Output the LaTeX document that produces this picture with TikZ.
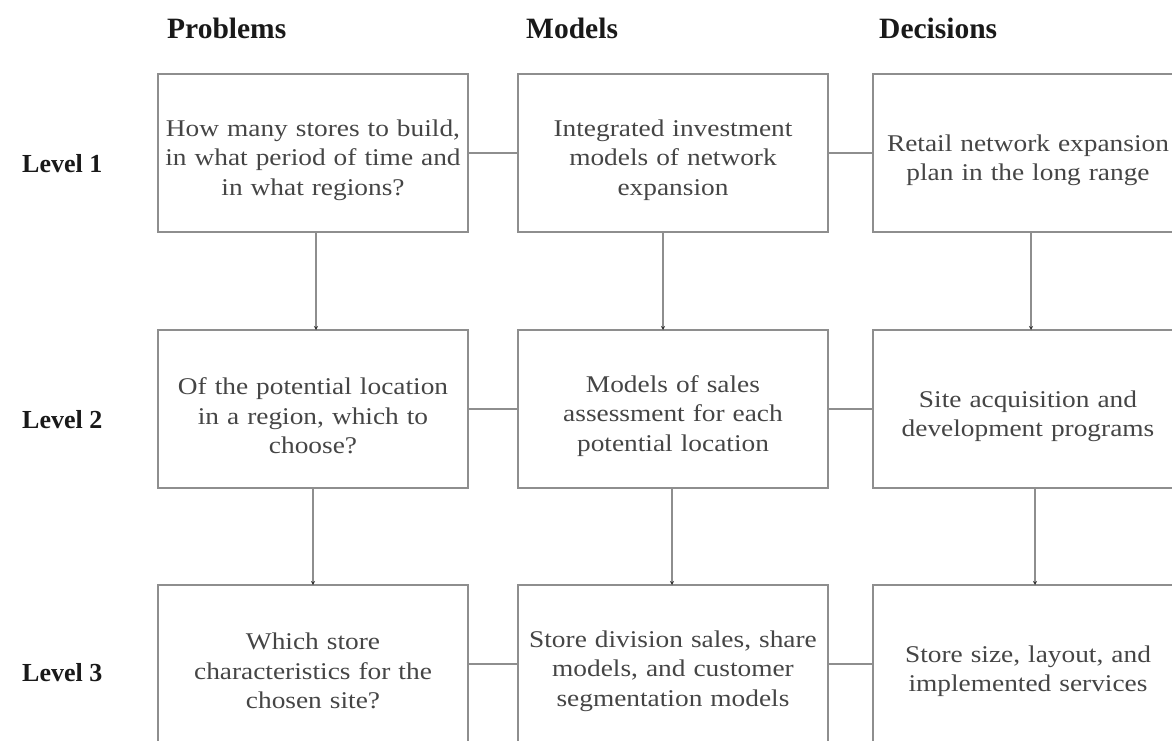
\documentclass[tikz,border=0pt]{standalone}
\usepackage{fontspec}
\setmainfont{Liberation Serif}
\newfontfamily\boxfont[FakeStretch=1.14,WordSpace=0.85]{Liberation Serif}
\usetikzlibrary{arrows.meta}
\definecolor{boxgray}{HTML}{8E8E8E}
\definecolor{txtgray}{HTML}{454545}
\definecolor{tipgray}{HTML}{333333}
\begin{document}
\begin{tikzpicture}[x=1pt,y=-1pt,
  box/.style={draw=boxgray, line width=1.6pt, minimum width=310pt, minimum height=158pt,
    inner sep=0pt, outer sep=0pt, align=center, text width=300pt, text=txtgray,
    font=\boxfont\fontsize{24}{29.5}\selectfont, anchor=north west,
    execute at begin node={\rule{0pt}{31pt}}},
  hdr/.style={anchor=west, inner sep=0pt, font=\bfseries\fontsize{29.5}{30}\selectfont, text=black!90},
  lvl/.style={anchor=west, inner sep=0pt, font=\bfseries\fontsize{26}{30}\selectfont, text=black!90},
  link/.style={draw=boxgray, line width=1.5pt},
  arr/.style={draw=boxgray, line width=1.5pt, -{Stealth[length=4pt,width=4pt,color=tipgray]}}
]
\useasboundingbox (0,0) rectangle (1172,740);
% headers
\node[hdr] (hp) at (167,28) {Problems};
\node[hdr] (hm) at (526,28) {Models};
\node[hdr] (hd) at (879,28) {Decisions};
% level labels
\node[lvl] (l1) at (22,164) {Level 1};
\node[lvl] (l2) at (22,420) {Level 2};
\node[lvl] (l3) at (22,673) {Level 3};
% boxes
\node[box] (p1) at (158,74) {How many stores to build,\\in what period of time and\\in what regions?};
\node[box] (m1) at (518,74) {Integrated investment\\models of network\\expansion};
\node[box] (d1) at (873,74) {Retail network expansion\\plan in the long range};
\node[box] (p2) at (158,330) {Of the potential location\\in a region, which to\\choose?};
\node[box] (m2) at (518,330) {Models of sales\\assessment for each\\potential location};
\node[box] (d2) at (873,330) {Site acquisition and\\development programs};
\node[box] (p3) at (158,585) {Which store\\characteristics for the\\chosen site?};
\node[box] (m3) at (518,585) {Store division sales, share\\models, and customer\\segmentation models};
\node[box] (d3) at (873,585) {Store size, layout, and\\implemented services};
% horizontal links
\draw[link] (p1.east) -- (m1.west);
\draw[link] (m1.east) -- (d1.west);
\draw[link] (p2.east) -- (m2.west);
\draw[link] (m2.east) -- (d2.west);
\draw[link] (p3.east) -- (m3.west);
\draw[link] (m3.east) -- (d3.west);
% vertical arrows
\draw[arr] ([xshift=3pt]p1.south) -- ([xshift=3pt]p2.north);
\draw[arr] ([xshift=0pt]p2.south) -- ([xshift=0pt]p3.north);
\draw[arr] ([xshift=-10pt]m1.south) -- ([xshift=-10pt]m2.north);
\draw[arr] ([xshift=-1pt]m2.south) -- ([xshift=-1pt]m3.north);
\draw[arr] ([xshift=3pt]d1.south) -- ([xshift=3pt]d2.north);
\draw[arr] ([xshift=7pt]d2.south) -- ([xshift=7pt]d3.north);
\end{tikzpicture}
\end{document}
